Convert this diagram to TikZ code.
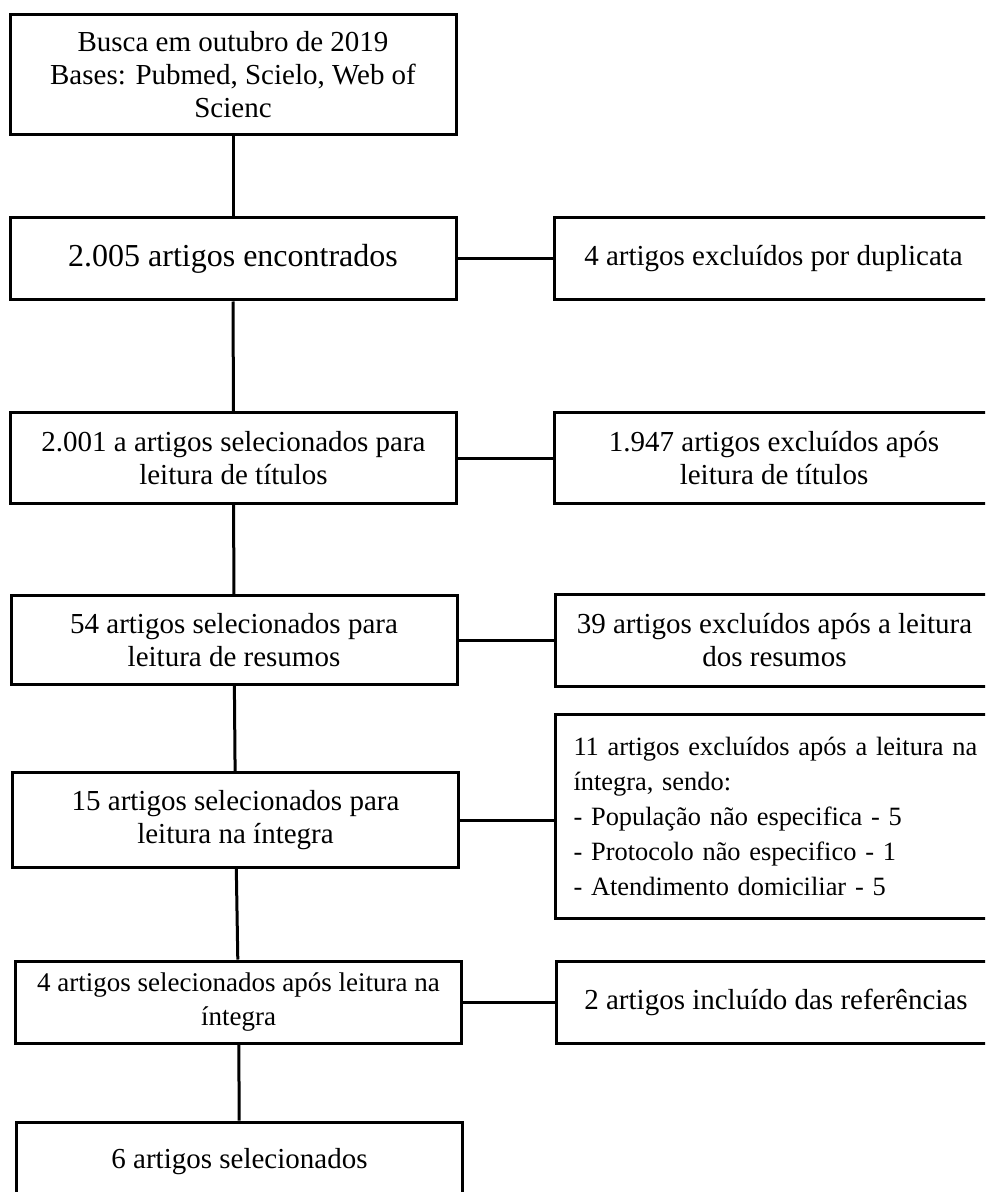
\documentclass[tikz,border=0pt]{standalone}
\usepackage{fontspec}
\setmainfont{Liberation Serif}
\usetikzlibrary{positioning}

\begin{document}
\begin{tikzpicture}[x=0.5pt, y=-0.5pt,
    every node/.style={font=\fontsize{14.5}{16.5}\selectfont},
    etapa/.style={draw, line width=1.5pt, minimum width=223pt, align=center, inner sep=2pt},
    excluidos/.style={draw, line width=1.5pt, minimum width=219.5pt, align=center, inner sep=2pt},
    ligacao/.style={line width=1.5pt}
]
\clip (0,0) rectangle (985,1192);

% coluna principal
\node[etapa, minimum height=60pt] (busca) at (233,75) {Busca em outubro de 2019\\Bases: Pubmed, Scielo, Web of\\Scienc};
\node[etapa, minimum height=41pt, font=\fontsize{16}{18}\selectfont] (encontrados) at (233,259) {2.005 artigos encontrados};
\node[etapa, minimum height=45.5pt] (titulos) at (233.5,458) {2.001 a artigos selecionados para\\leitura de títulos};
\node[etapa, minimum height=44.5pt] (resumos) at (234,640) {54 artigos selecionados para\\leitura de resumos};
\node[etapa, minimum height=47.5pt] (integra) at (235.5,820) {15 artigos selecionados para\\leitura na íntegra};
\node[etapa, minimum height=41pt, font=\fontsize{13.5}{17}\selectfont] (apos) at (238.5,1002) {4 artigos selecionados após leitura na\\íntegra};
\node[etapa, minimum height=40pt] (final) at (239.5,1162) {6 artigos selecionados};

% exclusões
\node[excluidos, minimum height=41pt, right=47.5pt of encontrados] (duplicata) {4 artigos excluídos por duplicata};
\node[excluidos, minimum height=45.5pt, right=47.5pt of titulos] (extitulos) {1.947 artigos excluídos após\\leitura de títulos};
\node[excluidos, minimum height=46pt, right=47.5pt of resumos] (exresumos) {39 artigos excluídos após a leitura\\dos resumos};
\node[excluidos, minimum height=102pt, text width=225pt, align=left, inner xsep=9pt,
    font=\fontsize{13.2}{17.5}\selectfont, right=47pt of integra, yshift=2pt] (exintegra)
    {11 artigos excluídos após a leitura na\\íntegra, sendo:\\- População não especifica - 5\\- Protocolo não especifico - 1\\- Atendimento domiciliar - 5};
\node[excluidos, minimum height=41pt, right=46pt of apos] (referencias) {2 artigos incluído das referências};

\draw[ligacao] (busca) -- (encontrados);
\draw[ligacao] (encontrados) -- (titulos);
\draw[ligacao] (titulos) -- (resumos);
\draw[ligacao] (resumos) -- (integra);
\draw[ligacao] (integra) -- (apos);
\draw[ligacao] (apos) -- (final);

\draw[ligacao] (encontrados.east) -- (encontrados.east -| duplicata.west);
\draw[ligacao] (titulos.east) -- (titulos.east -| extitulos.west);
\draw[ligacao] (resumos.east) -- (resumos.east -| exresumos.west);
\draw[ligacao] (integra.east) -- (integra.east -| exintegra.west);
\draw[ligacao] (apos.east) -- (apos.east -| referencias.west);
\end{tikzpicture}
\end{document}
